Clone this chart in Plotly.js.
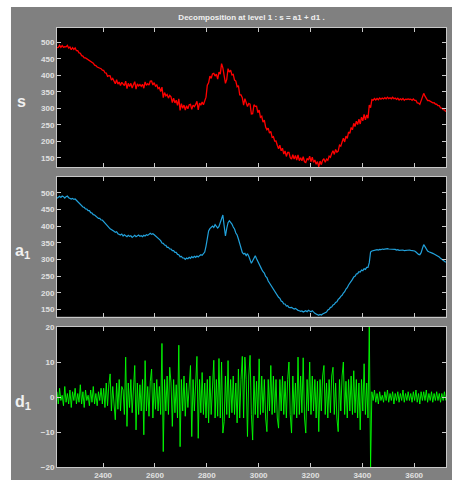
<!DOCTYPE html>
<html>
<head>
<meta charset="utf-8">
<script src="https://cdn.plot.ly/plotly-3.0.1.min.js"></script>
<style>html,body{margin:0;padding:0;background:#fff;}</style>
</head>
<body>
<div id="chart" style="width:452px;height:480px;"></div>
<script>
// sample positions: start index and step
const xStart = 2222;
const xStep = 5;

// approximation a1 (one value every 5 samples)
const a1 = [
483,487,489,486,490,488,484,488,490,485,484,481,483,480,481,477,474,470,464,462,
457,456,451,451,446,446,440,439,434,433,429,428,423,423,418,418,413,411,403,400,
396,392,390,388,384,381,383,377,375,373,376,370,374,371,368,372,369,371,366,369,
372,368,370,373,369,371,368,372,370,374,372,376,378,375,377,374,371,366,364,360,
356,349,348,343,342,336,336,331,331,326,326,321,321,315,314,308,309,304,304,300,
304,302,306,303,308,305,309,306,310,307,311,314,312,316,322,340,365,385,392,396,
400,396,404,399,394,399,410,426,433,400,370,393,410,416,411,406,397,391,379,373,
361,347,336,321,316,318,311,317,309,301,288,296,305,311,302,293,284,278,270,263,
259,249,245,235,229,221,217,208,205,196,194,186,183,175,173,166,166,160,161,156,
155,156,153,151,153,149,147,146,144,145,142,144,146,143,147,145,143,146,140,138,
136,134,132,135,133,136,138,141,142,148,150,156,157,163,165,171,173,180,183,189,
192,199,203,211,215,223,228,236,240,247,249,256,257,263,262,268,266,272,270,276,
276,290,322,325,326,328,327,329,328,330,329,331,330,331,330,332,331,331,330,332,
331,330,328,329,327,328,327,328,326,327,328,327,328,327,326,327,325,322,318,315,
314,320,333,344,338,330,325,323,322,319,318,316,314,311,309,307,303,300,297,294,
291
];

// detail d1 (same positions)
const d1 = [
1.5,-2,2.5,-1,0.5,-2.5,3,-1.5,1,-2,2,-3,1.5,-1,2.5,-2,1,-1.5,3.5,-2,
1.5,-3,2,-1,0.5,-2.5,2,-1.5,3,-2,1,-2.5,1.5,-1,2.5,-2,
2.5,-3,4,-2.5,3.5,6.6,-4,3,-2,-6.5,
4,-3.5,5,-4,3,2,-5,11.4,-8.4,4,
-3,5,-4.5,3,9,-9.4,4,-5,3.5,-4,
5,-10.8,10.4,-4,3,-5.5,4.5,8,-6,4,
-3.5,5,-4,3,-5,15.3,-15.6,5,-4,6,
-5,8.5,4,-8.4,5,-4.5,3.5,-6,14.8,-14.2,
5,-4,6,-5.5,4,-3,5,9,-11.3,5,
-4,6,11.6,-11.8,5,-4.5,7,-5,4,-6,
5,-7.4,6,-5,4.5,10.5,-6,5,-5.5,11,
-6,10,-10.3,-7,6,-5,10.4,-6,5,-4.5,
6,-5,4,-7.4,8,-6,5,11.6,-6,11.4,
5,-11.3,6,11.9,-5,-12.3,6,-5,4.5,-6,
10.9,-5,6,-4.5,5,-6,-9.9,5,-4,9,
-5,6,-4.5,5,-6,-8.9,5,-4,6,-5,
4.5,-6,5,10,-5,-10.3,6,-5,4,-6,
11.4,-5,6,-4.5,11.2,-6,-10.3,5,-4,10,
-5,6,-4,5,-6,4.5,-9.9,5,-4,6,
9,-5,4,-6,5,-4.5,6,8.5,-5,4,
-6,-9.9,5,-4,6,10,-5,4.5,-6,5,
-4,6,-5,7.5,-4.5,5,-6,4,-9.4,5,
-4,9.5,-5,4,-6,
20,-20,
1.5,-1,2,-1.5,1,-2,1.5,-1,0.5,-1.5,
1.5,-1,2,-1.5,1,-1,1.5,-2,1,-1,
1.5,-1.5,1,-1,2,-1.5,1,-1,1.5,-1,
1,-1.5,1.5,-1,2,-1.5,1,-2,1.5,-1,
1.5,-1,2,-1.5,1,-1,1.5,-1.5,1,-1,
1.5,-1,1,-1.5,1,-1,1.5,-1
];

const sigTicks = [150,200,250,300,350,400,450,500];
const detTicks = [-20,-10,0,10,20];
const xTicks = [2400,2600,2800,3000,3200,3400,3600];

// x positions and signal s = a1 + d1
const x = a1.map((_, i) => xStart + i * xStep);
const s = a1.map((v, i) => v + d1[i]);

const lineCol = '#c8c8c8';
const tickFont = {family:'Liberation Sans, Arial, sans-serif', size:8, color:'#e0e0e0', weight:'bold'};

function xax(anchor, labels) {
  return {anchor:anchor, domain:[0,1], range:[2222,3723], tickvals:xTicks,
    showticklabels:labels, ticks:'inside', ticklen:4, tickcolor:lineCol,
    showline:true, linecolor:lineCol, linewidth:1, mirror:'ticks',
    showgrid:false, zeroline:false, tickfont:tickFont};
}
function yax(anchor, dom, rng, tv) {
  return {anchor:anchor, domain:dom, range:rng, tickvals:tv,
    ticks:'inside', ticklen:4, tickcolor:lineCol,
    showline:true, linecolor:lineCol, linewidth:1, mirror:'ticks',
    showgrid:false, zeroline:false, tickfont:tickFont};
}

const traces = [
  {x:x, y:s, type:'scatter', mode:'lines', line:{color:'#ff0000', width:1.3}, xaxis:'x', yaxis:'y'},
  {x:x, y:a1, type:'scatter', mode:'lines', line:{color:'#22a2dc', width:1.2}, xaxis:'x2', yaxis:'y2'},
  {x:x, y:d1, type:'scatter', mode:'lines', line:{color:'#00ff00', width:0.9}, xaxis:'x3', yaxis:'y3'}
];

const labFont = {family:'Liberation Sans, Arial, sans-serif', size:16, color:'#f0f0f0', weight:'bold'};

const layout = {
  width:452, height:480,
  paper_bgcolor:'#808080', plot_bgcolor:'#000000',
  margin:{l:57, r:6, t:28, b:13},
  showlegend:false,
  title:{text:'Decomposition at level 1 : s = a1 + d1 .', x:0.5, xref:'paper', y:1-17/480, yref:'container', yanchor:'middle',
    font:{family:'Liberation Sans, Arial, sans-serif', size:8, color:'#f0f0f0', weight:'bold'}},
  xaxis: xax('y', false),
  xaxis2: xax('y2', false),
  xaxis3: xax('y3', true),
  yaxis: yax('x', [0.6827,1], [121,544], sigTicks),
  yaxis2: yax('x2', [0.3424,0.6613], [128,548], sigTicks),
  yaxis3: yax('x3', [0,0.3189], [-20,20], detTicks),
  shapes:[
    {type:'rect', xref:'paper', yref:'paper', x0:-0.16, x1:-0.1183, y0:-0.05, y1:1.08, fillcolor:'#ffffff', line:{width:0}, layer:'below'},
    {type:'rect', xref:'paper', yref:'paper', x0:-0.16, x1:1.05, y0:1.0478, y1:1.08, fillcolor:'#ffffff', line:{width:0}, layer:'below'}
  ],
  annotations:[
    {text:'s', xref:'paper', yref:'paper', x:-0.0925, y:0.832, showarrow:false, font:labFont, xanchor:'center', yanchor:'middle'},
    {text:'a<sub>1</sub>', xref:'paper', yref:'paper', x:-0.0875, y:0.49, showarrow:false, font:labFont, xanchor:'center', yanchor:'middle'},
    {text:'d<sub>1</sub>', xref:'paper', yref:'paper', x:-0.0875, y:0.148, showarrow:false, font:labFont, xanchor:'center', yanchor:'middle'}
  ]
};

Plotly.newPlot('chart', traces, layout, {staticPlot:true, displayModeBar:false});
</script>
</body>
</html>
